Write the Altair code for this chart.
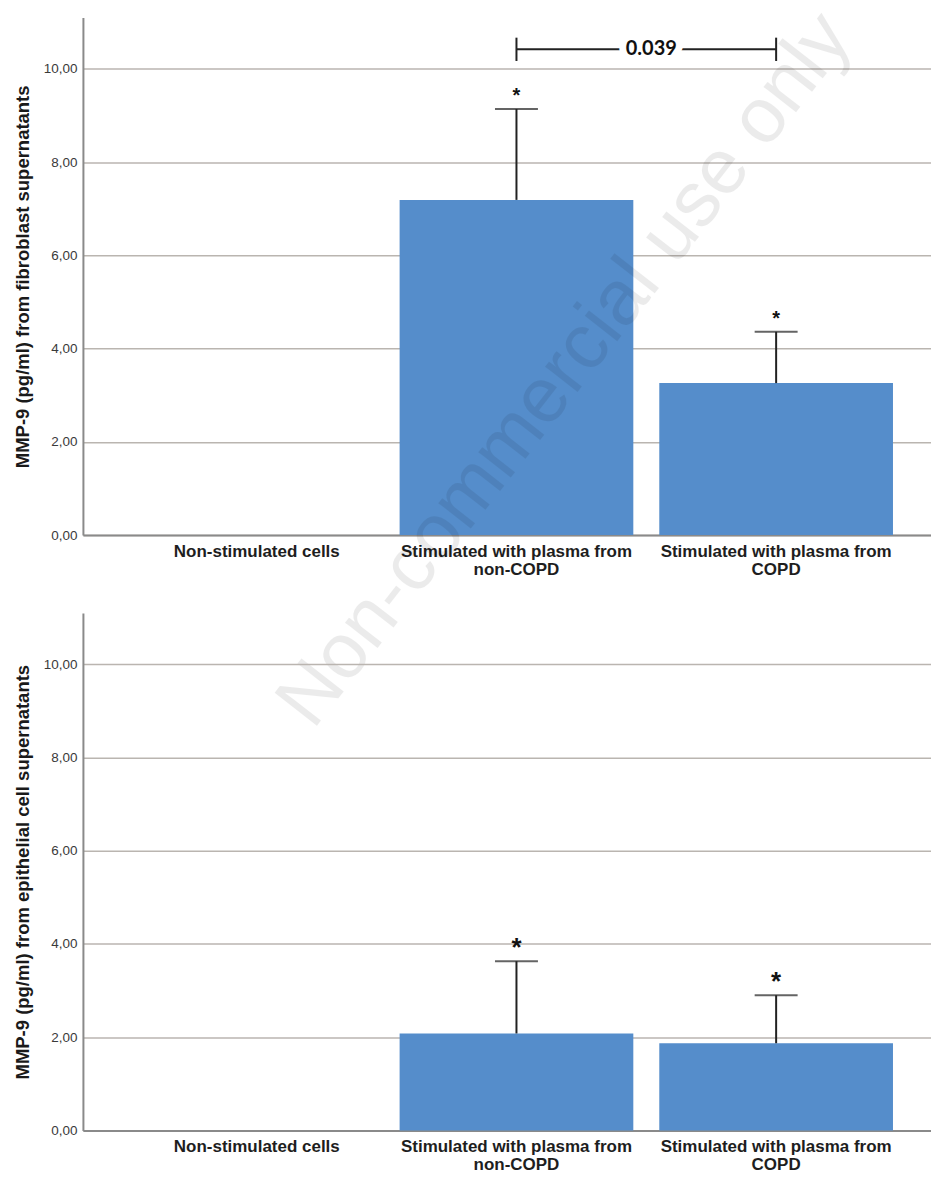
import altair as alt
import pandas as pd

# ---- data ----
categories = [
    "Non-stimulated cells",
    "Stimulated with plasma from non-COPD",
    "Stimulated with plasma from COPD",
]
fib_mean = [0.0, 7.19, 3.26]
fib_upper = [None, 9.14, 4.36]
epi_mean = [0.0, 2.08, 1.87]
epi_upper = [None, 3.63, 2.90]
y_ticks = [0, 2, 4, 6, 8, 10]
y_max = 11.1
bracket_from = categories[1]
bracket_to = categories[2]
bracket_y = 10.42
bracket_lo = 10.17
bracket_hi = 10.67
bracket_label = "0.039"
titles = [
    "MMP-9 (pg/ml) from fibroblast supernatants",
    "MMP-9 (pg/ml) from epithelial cell supernatants",
]
watermark = "Non-commercial use only"

BAR = "#558DCB"
INK = "#222222"
W, H = 849, 518

xscale = alt.Scale(domain=categories, paddingInner=0.1, paddingOuter=0.183, align=0.6)
yscale = alt.Scale(domain=[0, y_max], nice=False, zero=True)


def xenc(field="cat", **kw):
    return alt.X(
        f"{field}:N",
        scale=xscale,
        sort=categories,
        axis=alt.Axis(
            title=None,
            labelAngle=0,
            labelExpr="split(replace(datum.label, 'from ', 'from|'), '|')",
            labelFont="Liberation Sans",
            labelFontSize=17,
            labelFontWeight="bold",
            labelColor="#1e1e1e",
            labelLineHeight=18.5,
            labelPadding=8,
            labelLimit=600,
            ticks=False,
            domainColor="#8a8a8a",
            domainWidth=2,
            grid=False,
        ),
        **kw,
    )


def ysc(title):
    return alt.Axis(
        values=y_ticks,
        labelExpr="replace(format(datum.value, '.2f'), '.', ',')",
        grid=True,
        gridColor="#bab5b0",
        gridWidth=1.5,
        domainColor="#8a8a8a",
        domainWidth=2,
        ticks=False,
        labelFont="Liberation Sans",
        labelFontSize=13.5,
        labelColor="#3a3a3a",
        labelPadding=6,
        title=title,
        titleFont="Liberation Sans",
        titleFontSize=18.5,
        titleFontWeight="bold",
        titleColor="#1a1a1a",
        titlePadding=11,
    )


def panel(means, uppers, title, star_size, star_dy, with_extra):
    df = pd.DataFrame({"cat": categories, "mean": means, "upper": uppers})
    bars_df = df[df["mean"] > 0]
    err_df = df.dropna(subset=["upper"])

    base_y = alt.Y("mean:Q", scale=yscale, axis=ysc(title))

    bars = alt.Chart(bars_df).mark_bar(color=BAR).encode(x=xenc(), y=base_y)
    err = alt.Chart(err_df).mark_rule(color=INK, strokeWidth=2).encode(
        x=xenc(), y=alt.Y("mean:Q", scale=yscale), y2="upper:Q"
    )
    cap = alt.Chart(err_df).mark_tick(color=INK, size=43, thickness=2).encode(
        x=xenc(), y=alt.Y("upper:Q", scale=yscale)
    )
    star = alt.Chart(err_df).mark_text(
        text="*", font="Liberation Sans", fontSize=star_size, fontWeight="bold",
        color="#111111", baseline="alphabetic", dy=star_dy
    ).encode(x=xenc(), y=alt.Y("upper:Q", scale=yscale))

    layers = [bars, err, cap, star]

    if with_extra:
        bdf = pd.DataFrame({"from": [bracket_from], "to": [bracket_to],
                            "y": [bracket_y], "label": [bracket_label]})
        edf = pd.DataFrame({"cat": [bracket_from, bracket_to],
                            "lo": [bracket_lo] * 2, "hi": [bracket_hi] * 2})
        line = alt.Chart(bdf).mark_rule(color=INK, strokeWidth=2).encode(
            x=xenc("from"), x2="to:N", y=alt.Y("y:Q", scale=yscale)
        )
        ends = alt.Chart(edf).mark_rule(color=INK, strokeWidth=2).encode(
            x=xenc(), y=alt.Y("lo:Q", scale=yscale), y2="hi:Q"
        )
        halo = alt.Chart(bdf).mark_text(
            font="Lato", fontSize=20, fontWeight="bold", color="white",
            stroke="white", strokeWidth=14, dx=-8
        ).encode(x=xenc("to", bandPosition=0), y=alt.Y("y:Q", scale=yscale), text="label:N")
        lab = alt.Chart(bdf).mark_text(
            font="Lato", fontSize=20, fontWeight="bold", color="#111111", dx=-8
        ).encode(x=xenc("to", bandPosition=0), y=alt.Y("y:Q", scale=yscale), text="label:N")
        wm = alt.Chart(pd.DataFrame({"t": [watermark]})).mark_text(
            font="Liberation Sans", fontSize=78, angle=308, color="black",
            opacity=0.075, align="center", baseline="middle"
        ).encode(text="t:N", x=alt.value(483), y=alt.value(353))
        layers += [line, ends, halo, lab, wm]

    return alt.layer(*layers).properties(width=W, height=H)


top = panel(fib_mean, fib_upper, titles[0], 20, -7, True)
bottom = panel(epi_mean, epi_upper, titles[1], 26, -5, False)

chart = alt.vconcat(top, bottom, spacing=78, bounds="flush").properties(
    padding={"left": 5, "top": -9, "right": 0, "bottom": 5},
    background="white",
).configure_view(stroke=None)

chart.save("out.html", embed_options={"renderer": "svg", "actions": False})
